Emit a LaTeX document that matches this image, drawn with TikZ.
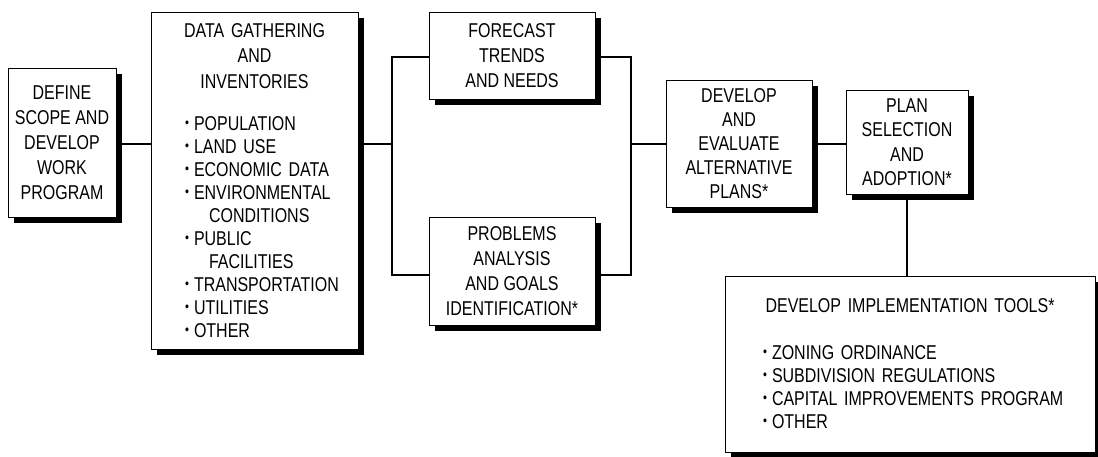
\documentclass[tikz,border=0pt]{standalone}
\usepackage{fontspec}
\setmainfont{Liberation Sans}[FakeStretch=0.8]
\usetikzlibrary{shadows}
\setlength{\parindent}{0pt}
\hyphenpenalty=10000
\uchyph=0
\hfuzz=60pt
\hbadness=10000
\newcommand{\itm}{\makebox[9pt][l]{\raisebox{3pt}{\fontsize{14}{14}\selectfont\textbullet}}}
\newcommand{\cont}{\hspace*{24pt}}
\tikzset{
    stage/.style={draw, line width=1pt, fill=white, inner sep=0pt, align=center,
        font=\fontsize{20}{25}\selectfont,
        drop shadow={shadow xshift=6pt, shadow yshift=-6pt, fill=black, opacity=1}},
    link/.style={line width=2.6pt}
}
\begin{document}
\begin{tikzpicture}[x=1pt, y={(0pt,-1pt)}]
        \useasboundingbox (0,0) rectangle (1098,456);
        %boxes
        \node[stage, minimum width=108pt, minimum height=149pt] (scope) at (62,142.5)
            {DEFINE\\SCOPE AND\\DEVELOP\\WORK\\PROGRAM};
        \node[stage, minimum width=207pt, minimum height=337pt, text width=139pt, align=left,
            font=\fontsize{20}{23}\selectfont] (data) at (254.5,180.5)
            {{\centering\fontsize{20}{25.5}\selectfont \makebox[\linewidth]{DATA GATHERING}\\AND\\INVENTORIES\par}
            \vspace{19pt}
            \itm POPULATION\\
            \itm LAND USE\\
            \itm \mbox{ECONOMIC DATA}\\
            \itm \mbox{ENVIRONMENTAL}\\
            \cont CONDITIONS\\
            \itm PUBLIC\\
            \cont FACILITIES\\
            \itm \mbox{TRANSPORTATION}\\
            \itm UTILITIES\\
            \itm OTHER};
        \node[stage, minimum width=166pt, minimum height=87pt] (forecast) at (512,55.5)
            {FORECAST\\TRENDS\\AND NEEDS};
        \node[stage, minimum width=166pt, minimum height=108pt] (problems) at (512,271)
            {PROBLEMS\\ANALYSIS\\AND GOALS\\IDENTIFICATION*};
        \node[stage, minimum width=146pt, minimum height=127pt, font=\fontsize{20}{24}\selectfont] (evaluate) at (739,143.5)
            {DEVELOP\\AND\\EVALUATE\\ALTERNATIVE\\PLANS*};
        \node[stage, minimum width=122pt, minimum height=104pt, font=\fontsize{20}{24.5}\selectfont] (adopt) at (907,142)
            {PLAN\\SELECTION\\AND\\ADOPTION*};
        \node[stage, minimum width=370pt, minimum height=176pt, text width=294pt, align=left,
            font=\fontsize{20}{23}\selectfont] (tools) at (910,364)
            {{\centering DEVELOP IMPLEMENTATION TOOLS*\par}
            \vspace{24pt}
            \itm ZONING ORDINANCE\\
            \itm SUBDIVISION REGULATIONS\\
            \itm \mbox{CAPITAL IMPROVEMENTS PROGRAM}\\
            \itm OTHER};
        %forks
        \coordinate (ltop) at (392,57);
        \coordinate (lmid) at (392,144);
        \coordinate (lbot) at (392,275);
        \coordinate (rtop) at (631,57);
        \coordinate (rmid) at (631,144);
        \coordinate (rbot) at (631,275);
        %links
        \draw[link] (scope.east |- lmid) -- (data.west |- lmid);
        \draw[link] (data.east |- lmid) -- (lmid);
        \draw[link] (forecast.west |- ltop) -- (ltop) -- (lbot) -- (problems.west |- lbot);
        \draw[link] (forecast.east |- rtop) -- (rtop) -- (rbot) -- (problems.east |- rbot);
        \draw[link] (rmid) -- (evaluate.west |- rmid);
        \draw[link] (evaluate.east |- rmid) -- (adopt.west |- rmid);
        \draw[link] (adopt.south) -- (adopt.south |- tools.north);
    \end{tikzpicture}
\end{document}
